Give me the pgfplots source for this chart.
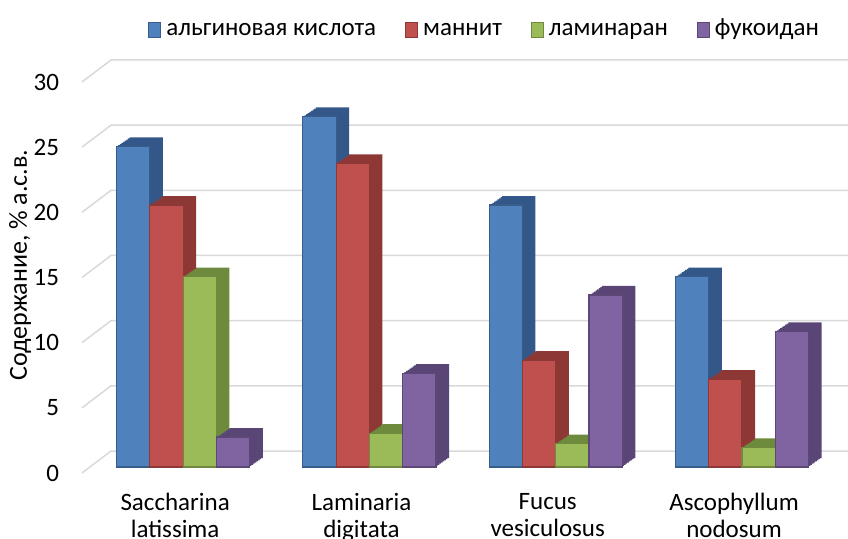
\documentclass[border=0pt]{standalone}
\usepackage{pgfplots}
\pgfplotsset{compat=1.18}
\usepackage{pgfplotstable}
\usepackage{fontspec}
\setmainfont{Carlito}
\definecolor{cA}{HTML}{4F81BD}\definecolor{dA}{HTML}{34578A}\definecolor{eA}{HTML}{385D8A}
\definecolor{cB}{HTML}{C0504D}\definecolor{dB}{HTML}{8E3836}\definecolor{eB}{HTML}{8C3836}
\definecolor{cC}{HTML}{9BBB59}\definecolor{dC}{HTML}{6E8A3C}\definecolor{eC}{HTML}{71893F}
\definecolor{cD}{HTML}{8064A2}\definecolor{dD}{HTML}{5A4676}\definecolor{eD}{HTML}{5C4776}
\definecolor{gridc}{HTML}{D9D9D9}
\pgfplotstableread{
x y
0 24.6
1 26.9
2 20.1
3 14.6
}\tblA
\pgfplotstableread{
x y
0 20.1
1 23.3
2 8.2
3 6.75
}\tblB
\pgfplotstableread{
x y
0 14.6
1 2.6
2 1.8
3 1.5
}\tblC
\pgfplotstableread{
x y
0 2.3
1 7.2
2 13.2
3 10.4
}\tblD
\newcommand{\ext}[4]{%
\addplot[ybar, bar width=16.65pt, bar shift=#2, fill=#1, draw=none, forget plot, xshift=#3*6.5pt, yshift=#3*4.5pt] table[x=x,y=y]{#4};}
\newcommand{\series}[5]{% front, dark, edge, shift, table
\ext{#2}{#4}{0.125}{#5}\ext{#2}{#4}{0.25}{#5}\ext{#2}{#4}{0.375}{#5}\ext{#2}{#4}{0.5}{#5}%
\ext{#2}{#4}{0.625}{#5}\ext{#2}{#4}{0.75}{#5}\ext{#2}{#4}{0.875}{#5}\ext{#2}{#4}{1}{#5}%
\addplot[ybar, bar width=16.65pt, bar shift=#4, fill=#1, draw=#3, line width=0.6pt] table[x=x,y=y]{#5};}
\begin{document}
\begin{tikzpicture}
\useasboundingbox (-45pt,-35.5pt) rectangle (379pt,233.5pt);
\clip (-45pt,-35.5pt) rectangle (379pt,233.5pt);
\begin{axis}[
  at={(0,0)}, anchor=south west,
  x=93.15pt, y=6.517pt,
  xmin=-0.5, xmax=3.6, ymin=0, ymax=30,
  axis line style={draw=none}, tick style={draw=none},
  clip=false,
  xtick={0,1,2,3},
  xticklabels={{Saccharina\\latissima},{Laminaria\\digitata},{Fucus\\vesiculosus},{Ascophyllum\\nodosum}},
  xticklabel style={align=center, font=\fontsize{12.5}{13.5}\selectfont, xshift=-4pt, yshift=-9.5pt},
  ytick={0,5,...,30},
  yticklabel style={font=\fontsize{12.5}{14}\selectfont, xshift=-12pt, yshift=-3pt},
  /pgf/number format/assume math mode=true,
  ylabel={Содержание, \% а.с.в.},
  every axis y label/.style={at={(axis description cs:-0.0915,0.5166)}, rotate=90, anchor=center, font=\fontsize{13}{15}\selectfont},
  legend columns=4,
  legend style={at={(axis description cs:0.518,1.118)}, anchor=center, draw=none, fill=none,
    font=\fontsize{12.5}{14}\selectfont,
    nodes={text height=8.5pt, text depth=2.5pt},
    /tikz/every even column/.append style={column sep=12.5pt},
    /tikz/every odd column/.append style={column sep=0.5pt}},
  legend image code/.code={\draw[#1, line width=0.5pt] (0pt,-3.75pt) rectangle (6pt,3.75pt);},
]
\pgfplotsinvokeforeach{0,5,...,30}{
  \draw[gridc, line width=0.75pt] ([xshift=-4pt,yshift=-3pt]axis cs:-0.5,#1) -- ([xshift=10.5pt,yshift=8pt]axis cs:-0.5,#1) -- ([xshift=10.5pt,yshift=8pt]axis cs:3.6,#1);
}
\series{cA}{dA}{eA}{-24.975pt}{\tblA}
\series{cB}{dB}{eB}{-8.325pt}{\tblB}
\series{cC}{dC}{eC}{8.325pt}{\tblC}
\series{cD}{dD}{eD}{24.975pt}{\tblD}
\legend{альгиновая кислота, маннит, ламинаран, фукоидан}
\end{axis}
\end{tikzpicture}
\end{document}
